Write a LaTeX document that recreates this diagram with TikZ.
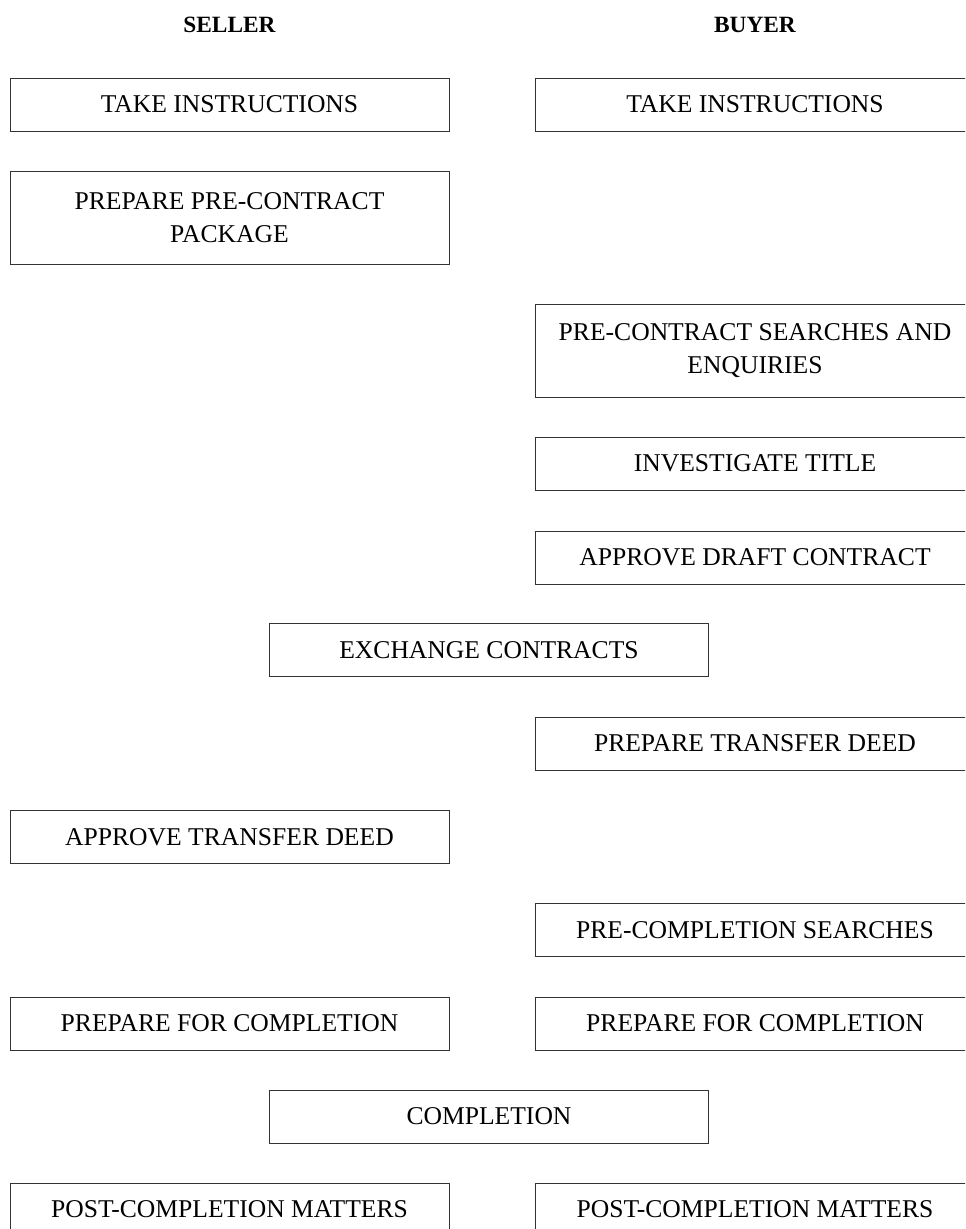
\documentclass[tikz,border=0pt]{standalone}
\usepackage{fontspec}
\setmainfont{Liberation Serif}
\begin{document}
\begin{tikzpicture}[x=0.75pt,y=-0.75pt,
  stepbox/.style={draw=black!80,line width=0.65pt,rectangle,minimum width=329.25pt,minimum height=39.75pt,inner sep=0pt,align=center,font=\fontsize{19.2}{25}\selectfont},
  tallbox/.style={stepbox,minimum height=69.75pt},
  header/.style={font=\fontsize{17.5}{22}\selectfont\bfseries,inner sep=0pt,anchor=base}]
\useasboundingbox (0,0) rectangle (965,1229);
\clip (0,0) rectangle (965,1229);
\fill[white] (0,0) rectangle (965,1229);
\node[header] (hs) at (229.5,32) {SELLER};
\node[header] (hb) at (755,32) {BUYER};
\node[stepbox] (s1) at (229.5,104.5) {TAKE INSTRUCTIONS};
\node[stepbox] (b1) at (755,104.5) {TAKE INSTRUCTIONS};
\node[tallbox] (s2) at (229.5,217.5) {PREPARE PRE-CONTRACT\\PACKAGE};
\node[tallbox] (b3) at (755,350.5) {PRE-CONTRACT SEARCHES AND\\ENQUIRIES};
\node[stepbox] (b4) at (755,463.5) {INVESTIGATE TITLE};
\node[stepbox] (b5) at (755,557.5) {APPROVE DRAFT CONTRACT};
\node[stepbox] (x6) at (489,650) {EXCHANGE CONTRACTS};
\node[stepbox] (b7) at (755,743.5) {PREPARE TRANSFER DEED};
\node[stepbox] (s8) at (229.5,837) {APPROVE TRANSFER DEED};
\node[stepbox] (b9) at (755,930) {PRE-COMPLETION SEARCHES};
\node[stepbox] (s10) at (229.5,1023.5) {PREPARE FOR COMPLETION};
\node[stepbox] (b10) at (755,1023.5) {PREPARE FOR COMPLETION};
\node[stepbox] (x11) at (489,1116.5) {COMPLETION};
\node[stepbox] (s12) at (229.5,1209.5) {POST-COMPLETION MATTERS};
\node[stepbox] (b12) at (755,1209.5) {POST-COMPLETION MATTERS};
\end{tikzpicture}
\end{document}
